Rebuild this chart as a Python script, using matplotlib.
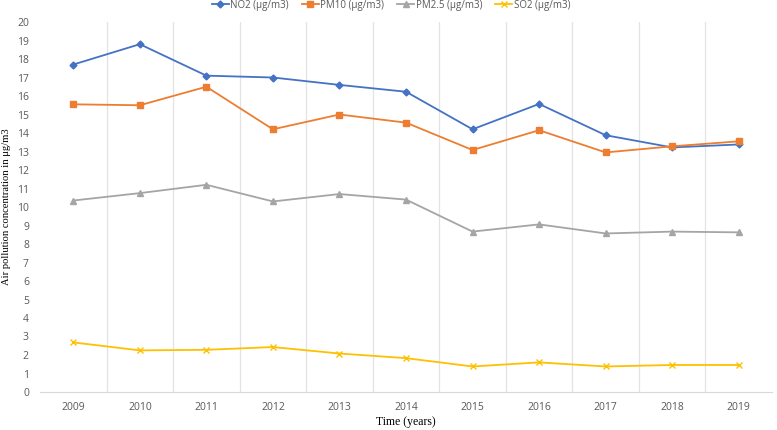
import matplotlib.pyplot as plt
import numpy as np

years = ['2009', '2010', '2011', '2012', '2013', '2014', '2015', '2016', '2017', '2018', '2019']
no2 = [17.7, 18.8, 17.1, 17.0, 16.6, 16.23, 14.2, 15.57, 13.88, 13.22, 13.38]
pm10 = [15.55, 15.5, 16.5, 14.2, 15.0, 14.56, 13.08, 14.15, 12.95, 13.28, 13.55]
pm25 = [10.35, 10.75, 11.2, 10.3, 10.7, 10.4, 8.67, 9.06, 8.57, 8.67, 8.63]
so2 = [2.68, 2.25, 2.28, 2.43, 2.08, 1.83, 1.38, 1.6, 1.38, 1.46, 1.46]

tick_font = 'Open Sans'
label_font = 'Liberation Serif'

W, H = 777, 430
fig = plt.figure(figsize=(W / 100, H / 100), dpi=100)
ax = fig.add_axes([40 / W, 1 - 392 / H, 732 / W, 370 / H])

x = np.arange(len(years))
ax.plot(x, no2, color='#4472C4', lw=1.3, marker='D', ms=3.5, label='NO2 (μg/m3)')
ax.plot(x, pm10, color='#ED7D31', lw=1.3, marker='s', ms=4.5, label='PM10 (μg/m3)')
ax.plot(x, pm25, color='#A5A5A5', lw=1.3, marker='^', ms=4.5, label='PM2.5 (μg/m3)')
ax.plot(x, so2, color='#FFC000', lw=1.3, marker='x', ms=5, mew=1, label='SO2 (μg/m3)')

ax.set_xlim(-0.5, len(years) - 0.5)
ax.set_ylim(0, 20)
ax.set_yticks(range(0, 21))
ax.set_xticks(x)
ax.set_xticklabels(years)

# vertical grid lines between categories
for b in np.arange(0.5, len(years) - 0.5, 1):
    ax.axvline(b, color='#E3E3E3', lw=0.9, zorder=0)

for s in ['top', 'right', 'left']:
    ax.spines[s].set_visible(False)
ax.spines['bottom'].set_color('#D9D9D9')
ax.tick_params(axis='both', length=0, colors='#595959', labelsize=7.5)
ax.tick_params(axis='x', pad=7)
ax.tick_params(axis='y', pad=8)
for lab in ax.get_xticklabels() + ax.get_yticklabels():
    lab.set_fontfamily(tick_font)

fig.text(406 / W, 1 - 422 / H, 'Time (years)', fontfamily=label_font, fontsize=8.5,
         ha='center', va='center')
fig.text(7 / W, 1 - 207 / H, 'Air pollution concentration in μg/m3', fontfamily=label_font,
         fontsize=7.6, rotation=90, ha='center', va='center')

leg = ax.legend(loc='center', bbox_to_anchor=((391 - 40) / 732, 1 + 17 / 370), ncol=4,
                frameon=False, prop={'family': tick_font, 'size': 7},
                handlelength=1.75, columnspacing=1.35, handletextpad=0.15)
for t in leg.get_texts():
    t.set_color('#595959')

fig.savefig('out.png', dpi=100)
